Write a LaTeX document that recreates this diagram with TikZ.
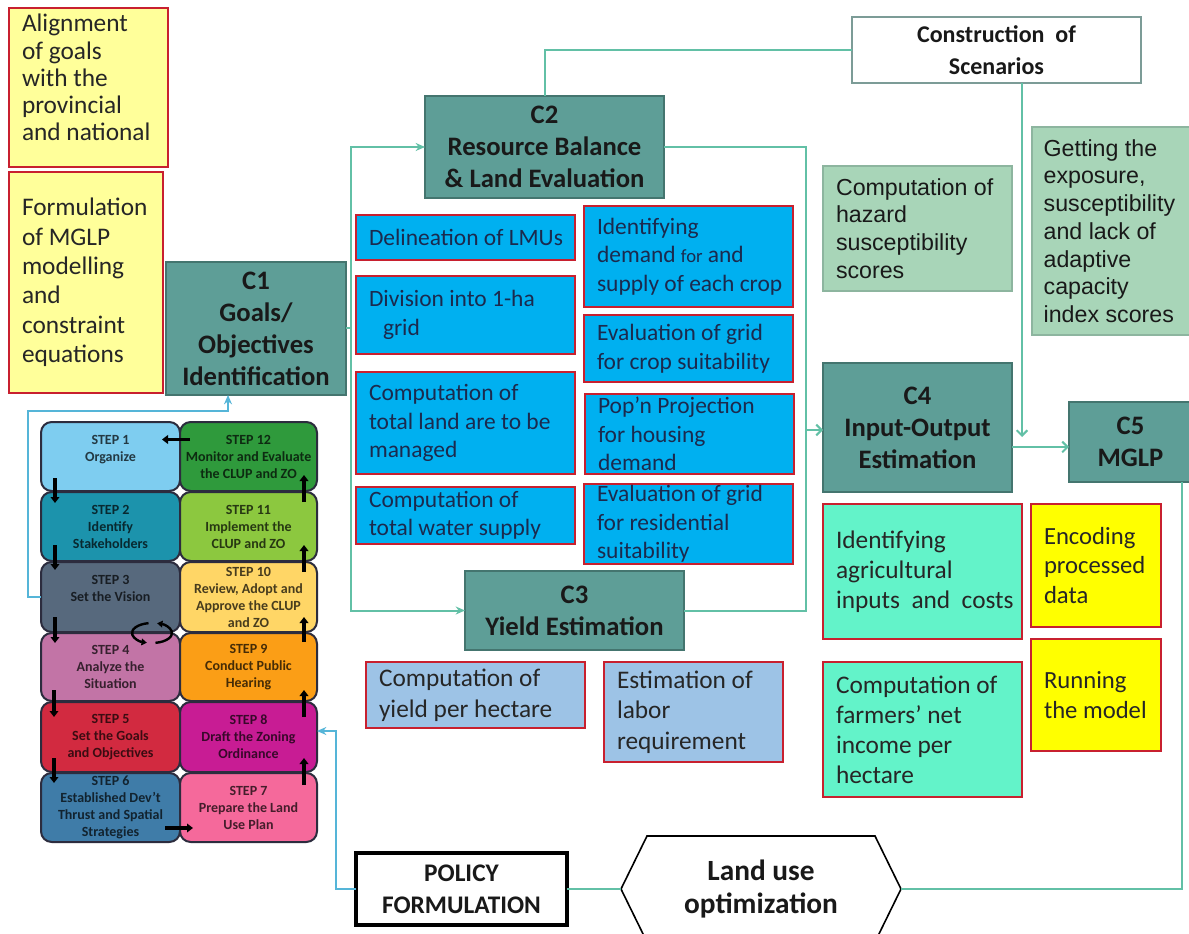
\documentclass[tikz,border=0pt]{standalone}
\usepackage{fontspec}
\setmainfont{Carlito}
\newfontfamily\arialf{Liberation Sans}
\usetikzlibrary{arrows.meta,calc}

\definecolor{cteal}{HTML}{5E9E97}
\definecolor{cteald}{HTML}{44756F}
\definecolor{lnteal}{HTML}{62C0A6}
\definecolor{lnblue}{HTML}{55B5D8}
\definecolor{bluebx}{HTML}{00B0F0}
\definecolor{lblue}{HTML}{9DC3E6}
\definecolor{aqua}{HTML}{63F3C9}
\definecolor{ylw}{HTML}{FFFF00}
\definecolor{lylw}{HTML}{FFFF9A}
\definecolor{redb}{HTML}{C8202F}
\definecolor{sage}{HTML}{A8D5B8}
\definecolor{sageb}{HTML}{8DB59F}
\definecolor{navy}{HTML}{1B2A4E}
\definecolor{txt}{HTML}{262626}
\definecolor{scenb}{HTML}{7C9C97}
\definecolor{stepb}{HTML}{2C2C3E}
\definecolor{s1c}{HTML}{7ECDF0}
\definecolor{s2c}{HTML}{1C93AC}
\definecolor{s3c}{HTML}{57697D}
\definecolor{s4c}{HTML}{C274A6}
\definecolor{s5c}{HTML}{D22A40}
\definecolor{s6c}{HTML}{3F7CA8}
\definecolor{s7c}{HTML}{F5699B}
\definecolor{s8c}{HTML}{C81C94}
\definecolor{s9c}{HTML}{FB9E16}
\definecolor{s10c}{HTML}{FFD666}
\definecolor{s11c}{HTML}{8CC83F}
\definecolor{s12c}{HTML}{2F9A3C}

\tikzset{
  every node/.style={outer sep=0pt},
  redbox/.style={draw=redb, line width=1.5pt, inner sep=0pt},
  bluebox/.style={redbox, fill=bluebx},
  lbbox/.style={redbox, fill=lblue},
  aqbox/.style={redbox, fill=aqua},
  yebox/.style={redbox, fill=ylw},
  ylbox/.style={redbox, fill=lylw},
  sgbox/.style={draw=sageb, line width=0.8pt, fill=sage, inner sep=0pt},
  cbx/.style={draw=cteald, line width=1.5pt, fill=cteal, text=black!90,
    font=\bfseries\fontsize{20}{24}\selectfont, inner sep=0pt},
  scenbx/.style={draw=scenb, line width=1.3pt, fill=white, text=black!90,
    font=\bfseries\fontsize{18}{24.5}\selectfont, inner sep=0pt},
  polbx/.style={draw=black, line width=2.4pt, fill=white, text=black!90,
    font=\bfseries\fontsize{19}{24}\selectfont, inner sep=0pt},
  hexln/.style={draw=black, line width=1.2pt},
  hextxt/.style={align=center, text=black!90, font=\bfseries\fontsize{22}{25}\selectfont},
  tblue/.style={font=\fontsize{17.6}{21.4}\selectfont, text=navy},
  tyl/.style={font=\fontsize{19}{20.4}\selectfont, text=txt},
  tyl2/.style={font=\fontsize{19}{22.1}\selectfont, text=txt},
  tsg/.style={font=\arialf\fontsize{17.4}{20.8}\selectfont, text=black!90},
  tlb/.style={font=\fontsize{19}{23}\selectfont, text=txt},
  taq/.style={font=\fontsize{19}{22.5}\selectfont, text=black!85},
  tye/.style={font=\fontsize{18.5}{22}\selectfont, text=txt},
  stepbox/.style={fill=#1, text=#1!28!black, draw=stepb, line width=1.5pt,
    rounded corners=8pt, inner sep=0pt,
    font=\bfseries\fontsize{10.5}{12.75}\selectfont},
  tline/.style={draw=lnteal, line width=1.5pt},
  tarrow/.style={tline, -{Stealth[length=7pt,width=6pt]}},
  tbarb/.style={tline, -{Straight Barb[length=4pt,width=8pt]}},
  barrow/.style={draw=lnblue, line width=1.1pt, -{Stealth[length=7pt,width=6pt]}},
  blk/.style={draw=black, line width=2.6pt, -{Triangle[length=4.5pt,width=6.5pt]}},
  cyc/.style={draw=black, line width=1.8pt, -{Triangle[length=4pt,width=5pt]}},
}

\newcommand{\tbox}[8]{%
  \pgfmathsetmacro{\tbw}{(#4-#2)*0.75}%
  \pgfmathsetmacro{\tbh}{(#5-#3)*0.75}%
  \node[#6, minimum width=\tbw pt, minimum height=\tbh pt] (#1) at ({(#2+#4)/2},{(#3+#5)/2}) {};%
  \node[anchor=west, align=left, inner sep=0pt, #7] (#1t) at ([xshift=9.75pt]#1.west) {#8};%
}
\newcommand{\cbox}[7]{%
  \pgfmathsetmacro{\tbw}{(#4-#2)*0.75}%
  \pgfmathsetmacro{\tbh}{(#5-#3)*0.75}%
  \node[#6, minimum width=\tbw pt, minimum height=\tbh pt, align=center] (#1) at ({(#2+#4)/2},{(#3+#5)/2}) {#7};%
}

\begin{document}
\begin{tikzpicture}[x=0.75pt,y=-0.75pt]
\useasboundingbox (0,0) rectangle (1189,934);
\clip (0,0) rectangle (1189,934);
\fill[white] (0,0) rectangle (1189,934);

% left yellow boxes
\tbox{al}{9}{8}{168}{167}{ylbox}{tyl, yshift=7.5pt}{Alignment\\of goals\\with the\\provincial\\and national}
\tbox{fm}{9}{172}{163}{393}{ylbox}{tyl2}{Formulation\\of MGLP\\modelling\\and\\constraint\\equations}

% component boxes
\cbox{c1}{166}{262}{346}{395}{cbx}{C1\\Goals/\\Objectives\\Identification}
\cbox{c2}{425}{96}{664}{198}{cbx}{C2\\Resource Balance\\\& Land Evaluation}
\cbox{c3}{465}{571}{684}{650}{cbx}{C3\\Yield Estimation}
\cbox{c4}{823}{363}{1012}{492}{cbx}{C4\\Input-Output\\Estimation}
\cbox{c5}{1069}{402}{1192}{482}{cbx}{C5\\MGLP}
\cbox{scen}{852}{17}{1141}{83}{scenbx}{Construction\ \ of\\Scenarios}

% sage boxes
\tbox{hz}{823}{166}{1012}{291}{sgbox}{tsg}{Computation of\\hazard\\susceptibility\\scores}
\tbox{gx}{1032}{127}{1195}{335}{sgbox}{tsg, xshift=-1pt}{Getting the\\exposure,\\susceptibility\\and lack of\\adaptive\\capacity\\index scores}

% C2 blue boxes
\tbox{b1}{356}{215}{575}{260}{bluebox}{tblue}{Delineation of LMUs}
\tbox{b2}{356}{276}{575}{354}{bluebox}{tblue}{Division into 1-ha\\\hspace*{10.5pt}grid}
\tbox{b3}{356}{372}{575}{474}{bluebox}{tblue}{Computation of\\total land are to be\\managed}
\tbox{b4}{356}{487}{575}{544}{bluebox}{tblue}{Computation of\\total water supply}
\tbox{b5}{584}{206}{793}{307}{bluebox}{tblue}{Identifying\\demand {\fontsize{14}{16}\selectfont for} and\\supply of each crop}
\tbox{b6}{584}{315}{793}{382}{bluebox}{tblue}{Evaluation of grid\\for crop suitability}
\tbox{b7}{585}{394}{794}{474}{bluebox}{tblue}{Pop’n Projection\\for housing\\demand}
\tbox{b8}{584}{484}{793}{564}{bluebox}{tblue}{Evaluation of grid\\for residential\\suitability}

% C3 boxes
\tbox{y1}{366}{662}{585}{728}{lbbox}{tlb}{Computation of\\yield per hectare}
\tbox{y2}{604}{662}{783}{762}{lbbox}{tlb}{Estimation of\\labor\\requirement}

% C4 boxes
\tbox{a1}{823}{504}{1022}{639}{aqbox}{taq}{Identifying\\agricultural\\inputs\ \ and\ \ costs}
\tbox{a2}{823}{662}{1022}{797}{aqbox}{taq}{Computation of\\farmers’ net\\income per\\hectare}

% C5 boxes
\tbox{e1}{1031}{504}{1161}{627}{yebox}{tye}{Encoding\\processed\\data}
\tbox{e2}{1031}{639}{1161}{751}{yebox}{tye}{Running\\the model}

% policy and optimization
\cbox{pol}{356}{853}{567}{925}{polbx}{POLICY\\FORMULATION}
\coordinate (hexL) at (621,889);
\coordinate (hexR) at (901,889);
\draw[hexln] (hexL) -- (647,836) -- (875,836) -- (hexR) -- (875,942) -- (647,942) -- cycle;
\node[hextxt] (lu) at (761,889) {Land use\\optimization};

% planning steps
\cbox{s1}{41}{422}{180}{491}{stepbox=s1c}{STEP 1\\Organize\\\phantom{X}}
\cbox{s12}{180}{422}{317}{491}{stepbox=s12c}{STEP 12\\Monitor\ and Evaluate\\the CLUP and ZO}
\cbox{s2}{41}{492}{180}{561}{stepbox=s2c}{STEP 2\\Identify\\Stakeholders}
\cbox{s11}{180}{492}{317}{561}{stepbox=s11c}{STEP 11\\Implement the\\CLUP and ZO}
\cbox{s3}{41}{562}{180}{632}{stepbox=s3c}{STEP 3\\Set the\ Vision\\\phantom{X}}
\cbox{s10}{180}{562}{317}{632}{stepbox=s10c}{STEP 10\\Review, Adopt\ and\\Approve the CLUP\\and ZO}
\cbox{s4}{41}{633}{180}{701}{stepbox=s4c}{STEP 4\\Analyze the\\Situation}
\cbox{s9}{180}{633}{317}{701}{stepbox=s9c}{STEP 9\\Conduct\ Public\\Hearing}
\cbox{s5}{41}{702}{180}{772}{stepbox=s5c}{STEP 5\\Set the\ Goals\\and Objectives}
\cbox{s8}{180}{702}{317}{772}{stepbox=s8c}{STEP 8\\Draft the\ Zoning\\Ordinance}
\cbox{s6}{41}{773}{180}{842}{stepbox=s6c}{STEP 6\\Established\ Dev’t\\Thrust and Spatial\\Strategies}
\cbox{s7}{180}{773}{317}{842}{stepbox=s7c}{STEP 7\\Prepare the Land\\Use Plan}

% step arrows
\draw[blk] ($(s12.west)+(10,-17)$) -- ($(s1.east)+(-18,-17)$);
\draw[blk] ($(s1.south west)+(14,-13)$) -- ($(s2.north west)+(14,11)$);
\draw[blk] ($(s2.south west)+(14,-16)$) -- ($(s3.north west)+(14,8)$);
\draw[blk] ($(s3.south west)+(14,-15)$) -- ($(s4.north west)+(14,10)$);
\draw[blk] ($(s4.south west)+(13,-11)$) -- ($(s5.north west)+(13,15)$);
\draw[blk] ($(s5.south west)+(13,-14)$) -- ($(s6.north west)+(13,10)$);
\draw[blk] ($(s6.south east)+(-15,-14)$) -- ($(s7.south west)+(13,-14)$);
\draw[blk] ($(s7.north east)+(-13,12)$) -- ($(s8.south east)+(-13,-14)$);
\draw[blk] ($(s8.north east)+(-13,15)$) -- ($(s9.south east)+(-13,-11)$);
\draw[blk] ($(s9.north east)+(-13,9)$) -- ($(s10.south east)+(-13,-15)$);
\draw[blk] ($(s10.north east)+(-13,10)$) -- ($(s11.south east)+(-13,-16)$);
\draw[blk] ($(s11.north east)+(-13,10)$) -- ($(s12.south east)+(-13,-16)$);
\coordinate (cy) at (152,633);
\draw[cyc] ($(cy)+(100:15pt and 7.5pt)$) arc[start angle=100, end angle=255, x radius=15pt, y radius=7.5pt];
\draw[cyc] ($(cy)+(280:15pt and 7.5pt)$) arc[start angle=280, end angle=435, x radius=15pt, y radius=7.5pt];

% connectors
\draw[tarrow] (c1.east) -- ++(5,0) |- (c2.west);
\draw[tarrow] (c1.east) -- ++(5,0) |- (c3.west);
\coordinate (vr) at (806,430);
\draw[tline] (c2.east) -| (vr) |- (c3.east);
\draw[tbarb] (vr) -- (vr -| c4.west);
\draw[tline] (scen.west) -| (c2.north);
\coordinate (dn) at (1022,437);
\draw[tbarb] (scen.south -| dn) -- (dn);
\draw[tbarb] ([yshift=-14.6pt]c4.east) -- ([yshift=-14.6pt]c4.east -| c5.west);
\coordinate (rr) at (1182,889);
\draw[tline] (c5.south -| rr) -- (rr) -- (hexR);
\draw[tline] (hexL) -- (pol.east);
\draw[barrow] (pol.west) -- ++(-20,0) |- ([yshift=4.5pt]s8.east);
\draw[barrow] (s3.west) -- ++(-13,0) |- ([xshift=-21pt,yshift=-12pt]c1.south) -- ([xshift=-21pt]c1.south);
\end{tikzpicture}
\end{document}
